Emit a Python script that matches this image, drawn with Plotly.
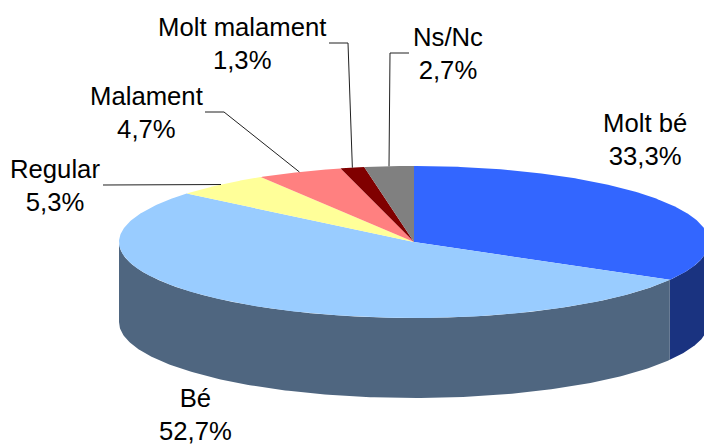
import numpy as np
import plotly.graph_objects as go

# Data
categories = ["Molt bé", "Bé", "Regular", "Malament", "Molt malament", "Ns/Nc"]
values = [33.3, 52.7, 5.3, 4.7, 1.3, 2.7]
labels = ["33,3%", "52,7%", "5,3%", "4,7%", "1,3%", "2,7%"]
top_colors = ["#3366FF", "#99CCFF", "#FFFF99", "#FF8080", "#800000", "#808080"]
side_colors = ["#1A3380", "#4F6680", None, None, None, None]

# Pie projection, in pixels of the page
CX, CY, RX, RY, DEPTH = 414, 242, 295, 76, 80
W, H = 704, 447
FONT = dict(family="Liberation Sans, Arial, sans-serif", size=25.7, color="#000000")
TEXT_COLOR_LINE = "#202020"

# label centre for each category, and the elbow of its leader (None = no leader)
label_pos = {
    "Molt bé": (645, 139), "Bé": (195, 414), "Regular": (55, 185),
    "Malament": (146, 112), "Molt malament": (242, 43), "Ns/Nc": (448, 53),
}
leader_start = {
    "Regular": [(103, 185)],
    "Malament": [(205, 112), (224, 112)],
    "Molt malament": [(329, 43), (348, 43)],
    "Ns/Nc": [(409, 53), (390, 53)],
}


def rim(frac):
    a = 2 * np.pi * np.asarray(frac, dtype=float)
    return CX + RX * np.sin(a), CY - RY * np.cos(a)


total = sum(values)
edges = np.concatenate([[0], np.cumsum(values)]) / total

fig = go.Figure()

# side walls (the front half of the rim only)
for i, col in enumerate(side_colors):
    if col is None:
        continue
    lo, hi = max(edges[i], 0.25), min(edges[i + 1], 0.75)
    if hi <= lo:
        continue
    t = np.linspace(lo, hi, 200)
    x, y = rim(t)
    fig.add_trace(go.Scatter(
        x=np.concatenate([x, x[::-1]]),
        y=np.concatenate([y, y[::-1] + DEPTH]),
        mode="lines", fill="toself", fillcolor=col,
        line=dict(width=0, color=col), hoverinfo="skip", showlegend=False))

# top faces
for i, cat in enumerate(categories):
    t = np.linspace(edges[i], edges[i + 1], 240)
    x, y = rim(t)
    fig.add_trace(go.Scatter(
        x=np.concatenate([[CX], x, [CX]]),
        y=np.concatenate([[CY], y, [CY]]),
        mode="lines", fill="toself", fillcolor=top_colors[i],
        line=dict(width=0, color=top_colors[i]),
        name=cat, hoverinfo="skip", showlegend=False))

# leader lines end on the rim at the middle of their slice
for i, cat in enumerate(categories):
    if cat not in leader_start:
        continue
    ex, ey = rim((edges[i] + edges[i + 1]) / 2)
    pts = leader_start[cat] + [(float(ex), float(ey))]
    fig.add_trace(go.Scatter(
        x=[p[0] for p in pts], y=[p[1] for p in pts], mode="lines",
        line=dict(width=1, color=TEXT_COLOR_LINE),
        hoverinfo="skip", showlegend=False))

for cat, lab in zip(categories, labels):
    px, py = label_pos[cat]
    fig.add_annotation(x=px, y=py, xref="x", yref="y", text=f"{cat}<br>{lab}",
                       showarrow=False, xanchor="center", yanchor="middle",
                       align="center", font=FONT)

fig.update_layout(
    width=W, height=H, margin=dict(l=0, r=0, t=0, b=0),
    paper_bgcolor="white", plot_bgcolor="white", showlegend=False,
    xaxis=dict(range=[0, W], visible=False, fixedrange=True),
    yaxis=dict(range=[H, 0], visible=False, fixedrange=True),
)
fig.write_html("out.html", config={"displayModeBar": False},
               post_script="document.body.style.margin='0';")
